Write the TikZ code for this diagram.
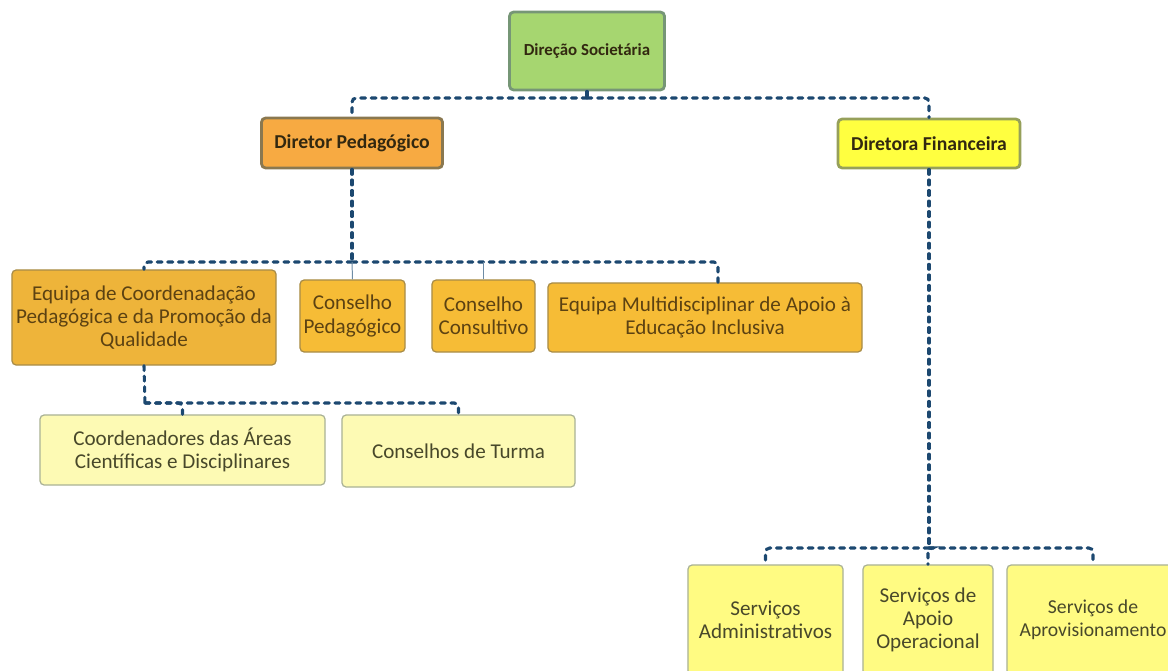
\documentclass[tikz,border=0pt]{standalone}
\usepackage{fontspec}
\setmainfont{Carlito}
\usetikzlibrary{positioning}
\definecolor{linkblue}{RGB}{28,72,112}
\definecolor{stemblue}{RGB}{110,140,165}
\definecolor{topgreen}{RGB}{166,214,112}
\definecolor{topedge}{RGB}{118,150,118}
\definecolor{pedorange}{RGB}{247,170,66}
\definecolor{pededge}{RGB}{138,120,80}
\definecolor{finyellow}{RGB}{255,255,64}
\definecolor{finedge}{RGB}{150,160,90}
\definecolor{midgold}{RGB}{246,188,54}
\definecolor{midgolddark}{RGB}{238,180,58}
\definecolor{midedge}{RGB}{168,140,72}
\definecolor{midtext}{RGB}{92,66,18}
\definecolor{paleyellow}{RGB}{253,250,180}
\definecolor{paleedge}{RGB}{170,178,150}
\definecolor{svcyellow}{RGB}{255,251,130}
\definecolor{lowtext}{RGB}{72,72,42}
\definecolor{chieftext}{RGB}{50,40,16}
\tikzset{
  box/.style={rounded corners=3pt,align=center,inner sep=2pt},
  chief/.style={box,line width=2pt,font=\fontsize{14}{16}\selectfont\bfseries,text=chieftext},
  unitbox/.style={box,line width=0.9pt,font=\fontsize{15}{16.6}\selectfont},
  council/.style={unitbox,draw=midedge,fill=midgold,text=midtext},
  subunit/.style={unitbox,draw=paleedge,fill=paleyellow,text=lowtext},
  service/.style={unitbox,draw=paleedge,fill=svcyellow,text=lowtext},
  link/.style={draw=linkblue,line width=2.2pt,line cap=round,dash pattern=on 3.5pt off 4pt,rounded corners=3pt},
  stem/.style={draw=stemblue,line width=0.7pt}
}

\begin{document}
\begin{tikzpicture}[x=0.025cm,y=-0.025cm]
  \useasboundingbox (0,0) rectangle (1168,670);
  \clip (0,0) rectangle (1168,670);

  % top levels
  \node[chief,draw=topedge,fill=topgreen,minimum width=3.875cm,minimum height=1.95cm,
        font=\fontsize{12}{14}\selectfont\bfseries] (soc) at (587,51) {Direção Societária};
  \node[chief,draw=pededge,fill=pedorange,minimum width=4.525cm,minimum height=1.25cm] (ped) at (352,143) {Diretor Pedagógico};
  \node[chief,draw=finedge,fill=finyellow,minimum width=4.55cm,minimum height=1.225cm] (fin) at (929,143.5) {Diretora Financeira};

  % pedagogical branch
  \node[council,fill=midgolddark,minimum width=6.6cm,minimum height=2.375cm] (coordeq) at (144,317.5)
    {Equipa de Coordenadação\\Pedagógica e da Promoção da\\Qualidade};
  \node[council,minimum width=2.625cm,minimum height=1.8cm] (cped) at (352.5,316) {Conselho\\Pedagógico};
  \node[council,minimum width=2.575cm,minimum height=1.8cm] (ccons) at (483.5,316) {Conselho\\Consultivo};
  \node[council,minimum width=7.85cm,minimum height=1.725cm] (multi) at (705,317.5)
    {Equipa Multidisciplinar de Apoio à\\Educação Inclusiva};
  \node[subunit,minimum width=7.125cm,minimum height=1.75cm] (areas) at (182.5,450)
    {Coordenadores das Áreas\\Científicas e Disciplinares};
  \node[subunit,minimum width=5.825cm,minimum height=1.8cm] (turma) at (458.5,451) {Conselhos de Turma};

  % financial branch
  \node[service,minimum width=3.875cm,minimum height=2.75cm] (adm) at (765.5,620) {Serviços\\Administrativos};
  \node[service,minimum width=3.25cm,minimum height=2.75cm] (apoio) at (928,620) {Serviços de\\Apoio\\Operacional};
  \node[service,minimum width=4.3cm,minimum height=2.75cm,font=\fontsize{14}{16.6}\selectfont] (aprov) at (1093,620)
    {Serviços de\\Aprovisionamento};

  % buses
  \coordinate (bus1) at (587,98);
  \coordinate (bus2) at (352,262);
  \coordinate (bus3) at (145,403);
  \coordinate (bus4) at (929,548);

  \draw[link] (soc.south) -- (bus1);
  \draw[link] (bus1) -| (ped.north);
  \draw[link] (bus1) -| (fin.north);

  \draw[link] (ped.south) -- (bus2);
  \draw[link] (bus2) -| (coordeq.north);
  \draw[link] (bus2) -| ([xshift=0.325cm]multi.north);
  \draw[stem] (bus2) -- (cped.north);
  \draw[stem] (ccons.north) -- (ccons.north |- bus2);

  \draw[link] (coordeq.south) -- (bus3);
  \draw[link] (bus3) -| (areas.north);
  \draw[link] (bus3) -| (turma.north);

  \draw[link] (fin.south) -- (bus4);
  \draw[link] (bus4) -| (adm.north);
  \draw[link] (bus4) -| (apoio.north);
  \draw[link] (bus4) -| (aprov.north);
\end{tikzpicture}
\end{document}
